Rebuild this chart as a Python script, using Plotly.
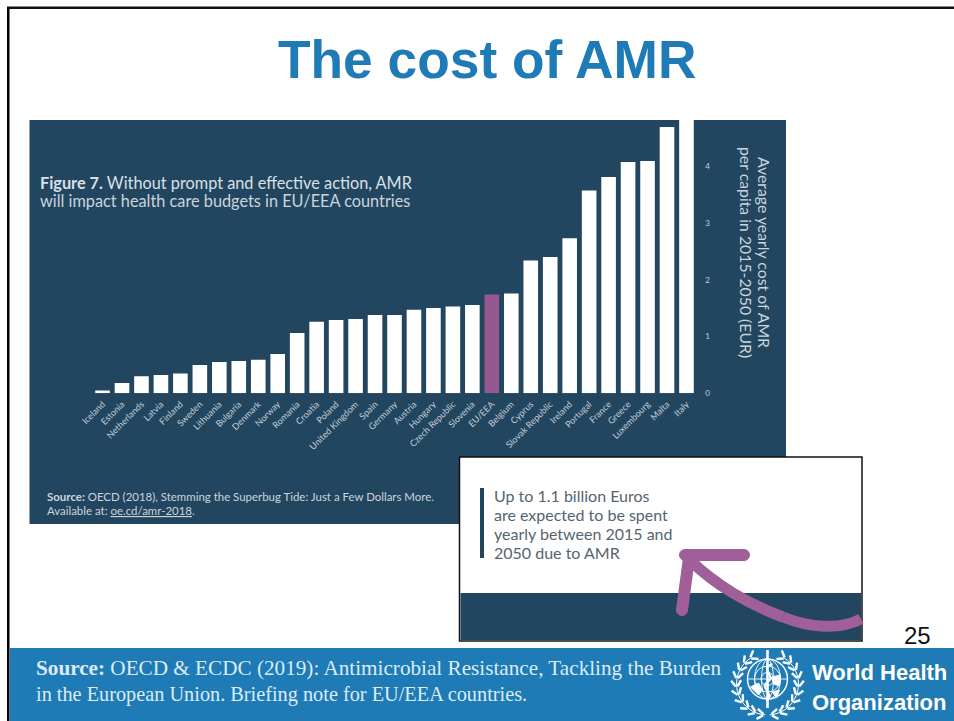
import math
import plotly.graph_objects as go

W, H = 954, 721
countries = ["Iceland","Estonia","Netherlands","Latvia","Finland","Sweden","Lithuania","Bulgaria","Denmark","Norway",
             "Romania","Croatia","Poland","United Kingdom","Spain","Germany","Austria","Hungary","Czech Republic","Slovenia",
             "EU/EEA","Belgium","Cyprus","Slovak Republic","Ireland","Portugal","France","Greece","Luxembourg","Malta","Italy"]
cost_eur = [0.05,0.18,0.30,0.32,0.35,0.50,0.55,0.57,0.59,0.69,
            1.06,1.26,1.29,1.31,1.38,1.38,1.47,1.50,1.53,1.555,
            1.74,1.755,2.34,2.40,2.73,3.57,3.81,4.07,4.09,4.69,5.0]
highlight = "EU/EEA"
y_ticks = [0, 1, 2, 3, 4]

NAVY = "#234660"
PURPLE = "#95588F"
ARROW = "#A05F98"
BLUE = "#1F7BB6"
WHITE = "#FFFFFF"
TICK = "#C3CFD8"

def X(p): return p / W
def Y(p): return 1 - p / H

def rect(x0, y0, x1, y1, fill, line=None, lw=0):
    return dict(type="rect", xref="paper", yref="paper", x0=X(x0), x1=X(x1), y0=Y(y1), y1=Y(y0),
                fillcolor=fill, line=dict(color=line or fill, width=lw), layer="below")

def path(pts, color, width, curve=False, fill=None, layer="above"):
    if curve:
        d = f"M {X(pts[0][0])} {Y(pts[0][1])} C " + " ".join(f"{X(a)} {Y(b)}" for a, b in pts[1:])
    else:
        d = "M " + " L ".join(f"{X(a)} {Y(b)}" for a, b in pts)
    if fill:
        d += " Z"
    return dict(type="path", xref="paper", yref="paper", path=d, layer=layer,
                line=dict(color=color, width=width), fillcolor=fill or "rgba(0,0,0,0)")

def ell(cx, cy, rx, ry, color=WHITE, width=1.2, fill=None):
    return dict(type="circle", xref="paper", yref="paper", x0=X(cx-rx), x1=X(cx+rx), y0=Y(cy+ry), y1=Y(cy-ry),
                line=dict(color=color, width=width), fillcolor=fill or "rgba(0,0,0,0)", layer="above")

def label(px, py, text, size, color, font="Lato", anchor="left", angle=0, ya="middle"):
    return dict(xref="paper", yref="paper", x=X(px), y=Y(py), text=text, showarrow=False, xanchor=anchor, yanchor=ya,
                textangle=angle, font=dict(size=size, color=color, family=font))

shapes = [
    rect(7, 7, 9.5, 721, "#000000"),
    rect(7, 6.5, 954, 9, "#111111"),
    rect(29.5, 120, 786, 524, NAVY),
    rect(9.5, 648, 954, 721, BLUE),
    rect(459.5, 457, 862, 641, WHITE, "#111111", 1.5),
    rect(460.5, 593, 861, 640, NAVY),
    rect(480, 488, 484, 558, NAVY),
    path([(690, 560), (715, 585), (750, 605), (783, 617)], ARROW, 11, curve=True),
    path([(783, 617), (810, 628), (840, 630), (861, 619)], ARROW, 11, curve=True),
    path([(685, 555), (744, 555)], ARROW, 12),
    path([(689, 558), (682, 610)], ARROW, 12),
    ell(685, 555, 5.5, 5.5, ARROW, 1, ARROW),
    ell(744, 555, 5.5, 5.5, ARROW, 1, ARROW),
    ell(682, 610, 5.5, 5.5, ARROW, 1, ARROW),
]
# WHO emblem
ex, ey = 767.5, 679
shapes += [ell(ex, ey, 20, 20, width=1.4), ell(ex, ey, 13, 20, width=0.9), ell(ex, ey, 6, 20, width=0.9),
           ell(ex, ey, 13, 13, width=0.9), ell(ex, ey, 6.5, 6.5, width=0.9)]
shapes += [path([(ex-20, ey), (ex+20, ey)], WHITE, 0.9)]
shapes += [path([(ex, 650), (ex, 708)], WHITE, 2.6)]
shapes += [path([(ex+5, 664), (ex-10, 668), (ex+10, 676), (ex, 682)], WHITE, 2, curve=True),
           path([(ex, 682), (ex-9, 688), (ex+7, 692), (ex, 700)], WHITE, 2, curve=True)]
shapes += [path([(ex-17, 687), (ex-9, 683), (ex-5, 690), (ex-9, 695)], WHITE, 1, fill=WHITE),
           path([(ex+4, 677), (ex+13, 675), (ex+12, 686), (ex+6, 684)], WHITE, 1, fill=WHITE),
           path([(ex+5, 692), (ex+12, 690), (ex+9, 698)], WHITE, 1, fill=WHITE)]
# laurel wreath: pairs of leaves along an arc on each side of the globe
wr = 31
for side in (-1, 1):
    for i in range(10):
        th = math.radians(8 + i * 15.5)
        px_, py_ = ex + side * wr * math.sin(th), 684 + wr * math.cos(th)
        tx, ty = side * math.cos(th), -math.sin(th)
        nx, ny = side * math.sin(th), math.cos(th)
        for s in (1, -1):
            shapes.append(path([(px_ + s*nx*0.8, py_ + s*ny*0.8),
                                (px_ + s*nx*5 + tx*6, py_ + s*ny*5 + ty*6)], WHITE, 2.4))
    arc = [(ex + side * wr * math.sin(math.radians(t)), 684 + wr * math.cos(math.radians(t))) for t in range(4, 150, 8)]
    shapes.append(path(arc, WHITE, 1))

annotations = [
    label(486.5, 60, "<b>The cost of AMR</b>", 53.3, "#1F7BB6", "Liberation Sans", "center"),
    label(38, 182, "<b>Figure 7.</b> Without prompt and effective action, AMR", 16.3, "#D8E0E6"),
    label(38, 200, "will impact health care budgets in EU/EEA countries", 16.3, "#C9D4DC"),
    label(45, 496, "<b>Source:</b> OECD (2018), Stemming the Superbug Tide: Just a Few Dollars More.", 11.45, "#C9D4DC"),
    label(45, 510, "Available at: <u>oe.cd/amr-2018</u>.", 11.45, "#C9D4DC"),
    label(492, 495, "Up to 1.1 billion Euros", 16, "#55646F"),
    label(492, 514, "are expected to be spent", 16, "#55646F"),
    label(492, 533, "yearly between 2015 and", 16, "#55646F"),
    label(492, 552, "2050 due to AMR", 16, "#55646F"),
    label(917, 635, "25", 24, "#111111", "Liberation Sans", "center"),
    label(34, 668, "<b>Source:</b> OECD & ECDC (2019): Antimicrobial Resistance, Tackling the Burden", 21.2, "#DCEBF5", "Liberation Serif"),
    label(34, 694, "in the European Union. Briefing note for EU/EEA countries.", 20.3, "#DCEBF5", "Liberation Serif"),
    label(810, 672, "<b>World Health</b>", 22, WHITE, "Liberation Sans"),
    label(810, 702, "<b>Organization</b>", 22, WHITE, "Liberation Sans"),
    label(765, 252, "Average yearly cost of AMR", 15.8, "#C9D4DC", "Lato", "center", 90),
    label(747, 252, "per capita in 2015-2050 (EUR)", 15.8, "#C9D4DC", "Lato", "center", 90),
]

colors = [PURPLE if c == highlight else WHITE for c in countries]
fig = go.Figure(go.Bar(x=countries, y=cost_eur, marker=dict(color=colors, line=dict(width=0)), width=0.75))
fig.update_layout(
    width=W, height=H, margin=dict(l=0, r=0, t=0, b=0), autosize=False,
    paper_bgcolor=WHITE, plot_bgcolor="rgba(0,0,0,0)", showlegend=False,
    shapes=shapes, annotations=annotations, font=dict(family="Lato"),
    xaxis=dict(domain=[X(92.8), X(696.2)], range=[-0.5, 30.5], type="category", categoryorder="array",
               categoryarray=countries, tickangle=-45, tickfont=dict(size=9, color=TICK), showgrid=False,
               zeroline=False, showline=False, ticks="", automargin=False, ticklabelstandoff=3),
    yaxis=dict(domain=[Y(393.3), Y(120)], range=[0, (393.3 - 120) / 56.8], side="right", tickvals=y_ticks,
               tickfont=dict(size=8, color=TICK), showgrid=False, zeroline=False, showline=False, ticks="",
               automargin=False, ticklabelstandoff=8),
)
fig.write_html("out.html", config=dict(displayModeBar=False),
               post_script="document.body.style.margin='0';document.documentElement.style.overflow='hidden';")
